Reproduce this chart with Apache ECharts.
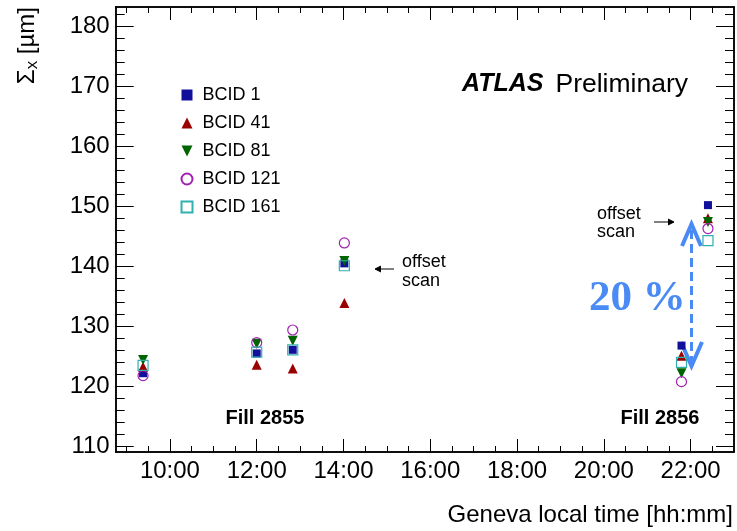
<!DOCTYPE html>
<html>
<head>
<meta charset="utf-8">
<script src="https://cdn.jsdelivr.net/npm/echarts@6/dist/echarts.min.js"></script>
<style>
  html, body { margin: 0; padding: 0; background: #fff; }
  #chart { width: 737px; height: 531px; }
</style>
</head>
<body>
<div id="chart"></div>
<script>
// measurement times (hours, Geneva local time)
const times = [9.38, 12.0, 12.83, 14.02, 21.79, 22.40]
// Sigma_x [um] per bunch
const bcid1   = [122.2, 125.5, 126.1, 140.5, 126.8, 150.2]
const bcid41  = [123.3, 123.6, 123.0, 133.9, 125.1, 148.0]
const bcid81  = [124.4, 127.1, 127.6, 140.9, 122.2, 147.4]
const bcid121 = [121.8, 127.3, 129.4, 143.9, 120.8, 146.3]
const bcid161 = [123.5, 125.7, 126.1, 140.1, 124.0, 144.3]

const xTicks = [10, 12, 14, 16, 18, 20, 22]
const yTicks = [110, 120, 130, 140, 150, 160, 170, 180]
const xRange = [8.75, 23.0]
const yRange = [109.08, 183.2]

const FONT = '"Liberation Sans", Arial, Helvetica, sans-serif'
const DOWN_TRIANGLE = 'path://M0,0 L10,0 L5,10 Z'

// minor ticks: every 30 min on x, every 2 um on y
const xMinor = []
for (let h = 9; h <= 22.5; h += 0.5) if (!xTicks.includes(h)) xMinor.push(h)
const yMinor = []
for (let v = 110; v <= 182; v += 2) if (v % 10 !== 0) yMinor.push(v)

const tickAxis = (position, values, length, labels) => ({
    type: 'value',
    position,
    min: position === 'bottom' || position === 'top' ? xRange[0] : yRange[0],
    max: position === 'bottom' || position === 'top' ? xRange[1] : yRange[1],
    splitLine: { show: false },
    axisLine: { show: true, onZero: false, lineStyle: { color: '#000', width: 1.5 } },
    axisTick: { show: true, inside: true, length, customValues: values, lineStyle: { color: '#000', width: 1 } },
    axisLabel: labels || { show: false },
})

const xLabel = {
    show: true, customValues: xTicks, margin: 7, color: '#000', fontSize: 24, fontFamily: FONT,
    formatter: (v) => v + ':00',
}
const yLabel = {
    show: true, customValues: yTicks, margin: 6, color: '#000', fontSize: 24, fontFamily: FONT,
}

const series = (name, values, symbol, size, color, open) => ({
    name,
    type: 'scatter',
    xAxisIndex: 0,
    yAxisIndex: 0,
    symbol,
    symbolSize: size,
    data: times.map((t, i) => [t, values[i]]),
    itemStyle: open
        ? { color: 'rgba(255,255,255,0)', borderColor: color, borderWidth: 1.2, opacity: 1 }
        : { color, opacity: 1 },
    emphasis: { disabled: true },
})

const arrowBlue = '#4a8af4'

const chart = echarts.init(document.getElementById('chart'), null, { renderer: 'canvas' })
chart.setOption({
    animation: false,
    backgroundColor: '#fff',
    grid: { left: 115.7, right: 3, top: 7, bottom: 79, outerBoundsMode: 'none' },
    xAxis: [
        tickAxis('bottom', xTicks, 13, xLabel),
        tickAxis('bottom', xMinor, 6),
        tickAxis('top', xTicks, 13),
        tickAxis('top', xMinor, 6),
    ],
    yAxis: [
        tickAxis('left', yTicks, 18, yLabel),
        tickAxis('left', yMinor, 9),
        tickAxis('right', yTicks, 18),
        tickAxis('right', yMinor, 9),
    ],
    legend: {
        orient: 'vertical',
        left: 180.5,
        top: 86,
        padding: 0,
        itemWidth: 11,
        itemHeight: 11,
        itemGap: 10,
        symbolKeepAspect: true,
        textStyle: { fontSize: 18, fontFamily: FONT, color: '#000', lineHeight: 18, padding: [0, 0, 0, 5] },
        selectedMode: false,
        data: [
            { name: 'BCID 1', icon: 'rect' },
            { name: 'BCID 41', icon: 'triangle' },
            { name: 'BCID 81', icon: DOWN_TRIANGLE },
            { name: 'BCID 121', icon: 'circle' },
            { name: 'BCID 161', icon: 'rect' },
        ],
    },
    series: [
        series('BCID 1', bcid1, 'rect', 8, '#10109a', false),
        series('BCID 41', bcid41, 'triangle', 10, '#9a0000', false),
        series('BCID 81', bcid81, DOWN_TRIANGLE, 10, '#006400', false),
        series('BCID 121', bcid121, 'circle', 10, '#a020b0', true),
        series('BCID 161', bcid161, 'rect', 10, '#30b0b0', true),
    ],
    graphic: [
        {
            type: 'text', left: 462, top: 71,
            style: {
                text: '{a|ATLAS}{b|Preliminary}',
                rich: {
                    a: { fontSize: 25, fontWeight: 'bold', fontStyle: 'italic', fontFamily: FONT, fill: '#000' },
                    b: { fontSize: 26.5, fontFamily: FONT, fill: '#000', padding: [0, 0, 0, 12] },
                },
            },
        },
        {
            type: 'text', x: 27, y: 7, rotation: Math.PI / 2,
            style: {
                text: '{a|Σ}{s|x}{a| [µm]}',
                align: 'right', verticalAlign: 'middle',
                rich: {
                    a: { fontSize: 24, fontFamily: FONT, fill: '#000' },
                    s: { fontSize: 17, fontFamily: FONT, fill: '#000', padding: [10, 0, 0, 0] },
                },
            },
        },
        {
            type: 'text', x: 733, y: 515,
            style: { text: 'Geneva local time [hh:mm]', align: 'right', verticalAlign: 'middle', fontSize: 24, fontFamily: FONT, fill: '#000' },
        },
        {
            type: 'text', x: 265, y: 418,
            style: { text: 'Fill 2855', align: 'center', verticalAlign: 'middle', fontSize: 20, fontWeight: 'bold', fontFamily: FONT, fill: '#000' },
        },
        {
            type: 'text', x: 660, y: 418,
            style: { text: 'Fill 2856', align: 'center', verticalAlign: 'middle', fontSize: 20, fontWeight: 'bold', fontFamily: FONT, fill: '#000' },
        },
        // offset scan annotations
        {
            type: 'text', x: 402, y: 272,
            style: { text: 'offset\nscan', align: 'left', verticalAlign: 'middle', fontSize: 18, lineHeight: 19, fontFamily: FONT, fill: '#000' },
        },
        { type: 'line', shape: { x1: 394, y1: 269, x2: 376, y2: 269 }, style: { stroke: '#000', lineWidth: 1 } },
        { type: 'polyline', shape: { points: [[381, 266], [375, 269], [381, 272]] }, style: { stroke: '#000', fill: '#000', lineWidth: 1 } },
        {
            type: 'text', x: 597, y: 223,
            style: { text: 'offset\nscan', align: 'left', verticalAlign: 'middle', fontSize: 18, lineHeight: 18, fontFamily: FONT, fill: '#000' },
        },
        { type: 'line', shape: { x1: 654, y1: 222, x2: 673, y2: 222 }, style: { stroke: '#000', lineWidth: 1 } },
        { type: 'polyline', shape: { points: [[668, 219], [674, 222], [668, 225]] }, style: { stroke: '#000', fill: '#000', lineWidth: 1 } },
        // 20 % spread arrow
        {
            type: 'text', x: 589, y: 299,
            style: { text: '20 %', align: 'left', verticalAlign: 'middle', fontSize: 43, fontWeight: 'bold', fontFamily: '"Liberation Serif", "Times New Roman", serif', fill: arrowBlue },
        },
        { type: 'line', shape: { x1: 691.5, y1: 230, x2: 691.5, y2: 362 }, style: { stroke: arrowBlue, lineWidth: 3, lineDash: [9, 5] } },
        { type: 'polyline', shape: { points: [[682, 246], [691.5, 224], [701, 246]] }, style: { stroke: arrowBlue, lineWidth: 4, fill: null } },
        { type: 'polyline', shape: { points: [[681, 342], [691.5, 366], [702, 342]] }, style: { stroke: arrowBlue, lineWidth: 4, fill: null } },
    ],
})
</script>
</body>
</html>
